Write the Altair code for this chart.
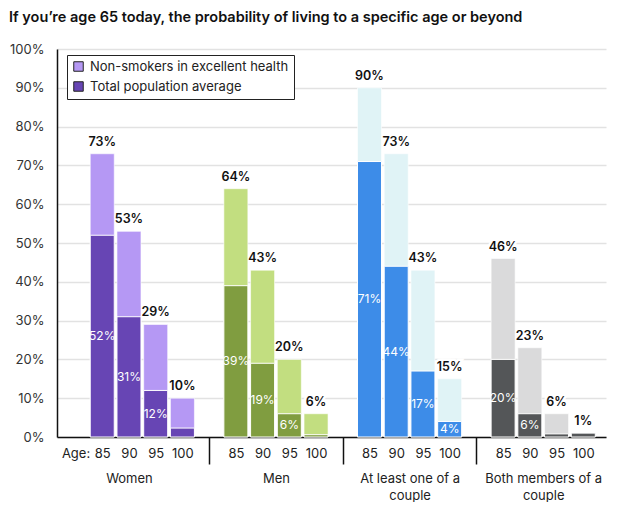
import json
import altair as alt
import pandas as pd

# ---------------- data ----------------
title_text = "If you\u2019re age 65 today, the probability of living to a specific age or beyond"
groups = ["Women", "Men", "At least one of a couple", "Both members of a couple"]
group_lines = [["Women"], ["Men"], ["At least one of a", "couple"], ["Both members of a", "couple"]]
ages = ["85", "90", "95", "100"]
age_prefix = "Age:"
legend_light = "Non-smokers in excellent health"
legend_dark = "Total population average"

nonsmokers_women = [73, 53, 29, 10]
nonsmokers_men = [64, 43, 20, 6]
nonsmokers_couple_one = [90, 73, 43, 15]
nonsmokers_couple_both = [46, 23, 6, 1]

population_women = [52, 31, 12, 2.3]
population_men = [39, 19, 6, 0.6]
population_couple_one = [71, 44, 17, 4]
population_couple_both = [20, 6, 0.8, 1]

# inner labels that are printed (small segments carry no label)
population_labels_women = ["52%", "31%", "12%", ""]
population_labels_men = ["39%", "19%", "6%", ""]
population_labels_couple_one = ["71%", "44%", "17%", "4%"]
population_labels_couple_both = ["20%", "6%", "", ""]

light_colors = ["#b598f4", "#c2de80", "#e0f3f6", "#dadadb"]
dark_colors = ["#6745b4", "#809d40", "#3d8ce8", "#545658"]

y_ticks = [0, 10, 20, 30, 40, 50, 60, 70, 80, 90, 100]

# ---------------- table ----------------
nonsmokers = [nonsmokers_women, nonsmokers_men, nonsmokers_couple_one, nonsmokers_couple_both]
population = [population_women, population_men, population_couple_one, population_couple_both]
pop_labels = [population_labels_women, population_labels_men,
              population_labels_couple_one, population_labels_couple_both]

SLOTS = 5  # four ages + one spacer per group
rows = []
light_keys, dark_keys = [], []
for gi, g in enumerate(groups):
    lk = legend_light if gi == 0 else g + " (non-smokers)"
    dk = legend_dark if gi == 0 else g + " (total)"
    light_keys.append(lk)
    dark_keys.append(dk)
    for j, a in enumerate(ages):
        rows.append({
            "group": g,
            "age": a,
            "pos": gi * SLOTS + j,
            "light": nonsmokers[gi][j],
            "dark": population[gi][j],
            "light_label": f"{nonsmokers[gi][j]}%",
            "dark_label": pop_labels[gi][j],
            "light_series": lk,
            "dark_series": dk,
        })
df = pd.DataFrame(rows)

color_domain, color_range = [], []
for gi in range(len(groups)):
    color_domain += [light_keys[gi], dark_keys[gi]]
    color_range += [light_colors[gi], dark_colors[gi]]

FONT = "Inter"

# ---------------- scales / axes ----------------
STEP = 27.22
PLOT_W = 549
PLOT_H = 388
x_min = -1.506
x_scale = alt.Scale(domain=[x_min, x_min + PLOT_W / STEP], nice=False, zero=False)
y_scale = alt.Scale(domain=[0, 100], nice=False)
c_scale = alt.Scale(domain=color_domain, range=color_range)

age_positions = [-1] + [gi * SLOTS + j for gi in range(len(groups)) for j in range(len(ages))]
age_label_expr = f"datum.value < 0 ? {json.dumps(age_prefix)} : {json.dumps(ages)}[datum.value % {SLOTS}]"

age_axis = alt.Axis(
    orient="bottom", values=age_positions, labelExpr=age_label_expr,
    domain=True, domainColor="#111111", domainWidth=1.5,
    ticks=False, grid=False, labelPadding=10, labelFontSize=13,
    labelColor="#222222", labelFont=FONT, title=None,
    labelFlush=False, labelOverlap=False, labelBound=False,
)

# group centres (the women band also spans the "Age:" slot) and dividers
group_centres = [(-1 + len(ages) - 1) / 2] + [gi * SLOTS + (len(ages) - 1) / 2 for gi in range(1, len(groups))]
dividers = [gi * SLOTS + len(ages) for gi in range(len(groups) - 1)]
expr_parts = []
for c, lines in zip(group_centres, group_lines):
    expr_parts.append(f"datum.value == {c} ? {json.dumps(lines if len(lines) > 1 else lines[0])}")
group_label_expr = " : ".join(expr_parts) + " : ''"

group_axis = alt.Axis(
    orient="bottom", values=group_centres + dividers, labelExpr=group_label_expr,
    domain=False, ticks=True, tickSize=27, tickWidth=1.5,
    tickColor={"condition": {"test": f"datum.value % {SLOTS} == {len(ages)}", "value": "#111111"},
               "value": "transparent"},
    grid=False, labelPadding=8, labelFontSize=13, labelLineHeight=17,
    labelColor="#222222", labelFont=FONT, title=None,
    labelFlush=False, labelOverlap=False, labelBound=False,
)

y_axis = alt.Axis(
    values=y_ticks, labelExpr="datum.value + '%'", grid=True,
    gridColor="#e2e2e2", gridWidth=1.3, domain=True, domainColor="#111111",
    domainWidth=1.5, ticks=False, labelPadding=13, labelFontSize=13,
    labelColor="#333333", labelFont=FONT, title=None,
)

legend = alt.Legend(
    orient="none", legendX=10, legendY=6, values=[legend_light, legend_dark],
    title=None, symbolType="square", symbolSize=90, symbolStrokeColor="#222222",
    symbolStrokeWidth=1, labelFontSize=13, labelFont=FONT, labelColor="#222222",
    strokeColor="#222222", fillColor="white", padding=5, rowPadding=5,
    labelOffset=5, labelLimit=400,
)

base = alt.Chart(df)

halo = base.mark_text(
    font=FONT, fontSize=12.5, fontWeight=600, baseline="alphabetic", dy=-8,
    fill="white", stroke="white", strokeWidth=5,
).encode(
    x=alt.X("pos:Q", scale=x_scale, axis=None),
    y=alt.Y("light:Q", scale=y_scale, axis=y_axis),
    text="light_label:N",
)

light_bars = base.mark_bar(size=24, stroke="white", strokeWidth=1, strokeOpacity=0.6).encode(
    x=alt.X("pos:Q", scale=x_scale, axis=group_axis),
    y=alt.Y("light:Q", scale=y_scale, axis=y_axis),
    color=alt.Color("light_series:N", scale=c_scale, legend=legend),
)

dark_bars = base.mark_bar(size=24, stroke="white", strokeWidth=1).encode(
    x=alt.X("pos:Q", scale=x_scale, axis=age_axis),
    y=alt.Y("dark:Q", scale=y_scale, axis=y_axis),
    color=alt.Color("dark_series:N", scale=c_scale, legend=legend),
)

top_text = base.mark_text(
    font=FONT, fontSize=12.5, fontWeight=600, baseline="alphabetic", dy=-8, color="#111111",
).encode(
    x=alt.X("pos:Q", scale=x_scale, axis=None),
    y=alt.Y("light:Q", scale=y_scale, axis=y_axis),
    text="light_label:N",
)

inner_text = base.transform_calculate(mid="datum.dark / 2").mark_text(
    font=FONT, fontSize=12, baseline="middle", color="white",
).encode(
    x=alt.X("pos:Q", scale=x_scale, axis=None),
    y=alt.Y("mid:Q", scale=y_scale, axis=y_axis),
    text="dark_label:N",
)

chart = alt.layer(halo, light_bars, dark_bars, top_text, inner_text).resolve_axis(
    x="independent"
).properties(
    width=PLOT_W,
    height=PLOT_H,
    autosize=alt.AutoSizeParams(type="none"),
    padding={"left": 49, "top": 41, "right": 10, "bottom": 65},
    title=alt.TitleParams(
        text=title_text, anchor="start", frame="group", dx=-48, dy=7, offset=14,
        font=FONT, fontSize=14.5, fontWeight=600, color="#111111", baseline="alphabetic",
    ),
).configure(background="white").configure_view(stroke=None)

chart.save("out.html", embed_options={"renderer": "svg", "actions": False})
